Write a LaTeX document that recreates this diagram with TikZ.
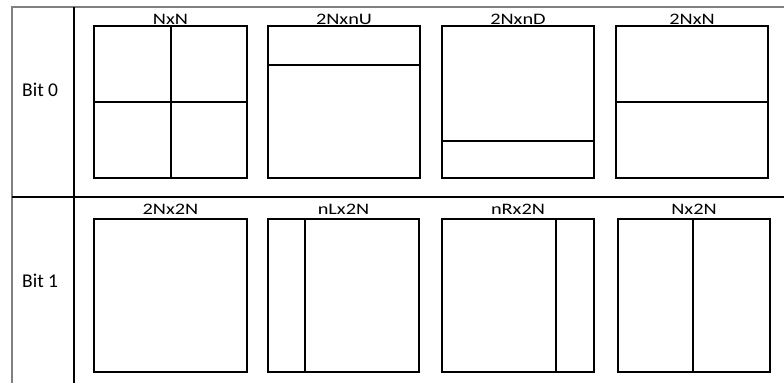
\documentclass[tikz,border=0pt]{standalone}
\usepackage{fontspec}
\setmainfont{Carlito}
\usepackage{graphicx}
\begin{document}
\begin{tikzpicture}[x=1pt,y=-1pt,
  partbox/.style={draw=black, line width=2pt, inner sep=0pt, minimum width=152pt, minimum height=152pt},
  split/.style={draw=black, line width=2pt},
  grid/.style={draw=black, line width=1.1pt},
  outer/.style={draw=black!50, line width=1.5pt},
  lbl/.style={anchor=base, inner sep=0pt, font=\fontsize{16}{19}\selectfont},
  rowlbl/.style={anchor=base west, inner sep=0pt, font=\fontsize{19.5}{23}\selectfont}]
\useasboundingbox (0,0) rectangle (784,383);
% table lines
\coordinate (tl) at (12,7);
\coordinate (tr) at (784,7);
\coordinate (bl) at (12,383);
\coordinate (dt) at (74,7);
\coordinate (db) at (74,383);
\coordinate (ml) at (12,197);
\coordinate (mr) at (784,197);
\draw[outer] (bl) -- (tl) -- (tr);
\draw[grid] (dt) -- (db);
\draw[grid] (ml) -- (mr);
% row labels
\node[rowlbl] (bit0) at (22,96.5) {Bit 0};
\node[rowlbl] (bit1) at (22,287.5) {Bit 1};
% row 0 boxes
\node[partbox, minimum width=153pt] (A) at (170.5,102) {};
\node[partbox] (B) at (344,102) {};
\node[partbox] (C) at (518,102) {};
\node[partbox] (D) at (692,102) {};
\draw[split] (A.north) -- (A.south);
\draw[split] (A.west) -- (A.east);
\draw[split] (B.west |- 0,65) -- (B.east |- 0,65);
\draw[split] (C.west |- 0,141) -- (C.east |- 0,141);
\draw[split] (D.west) -- (D.east);
\node[lbl] (lA) at (170.5,24.5) {\scalebox{1.27}[1]{NxN}};
\node[lbl] (lB) at (344,24.5) {\scalebox{1.27}[1]{2NxnU}};
\node[lbl] (lC) at (518,24.5) {\scalebox{1.27}[1]{2NxnD}};
\node[lbl] (lD) at (692,24.5) {\scalebox{1.27}[1]{2NxN}};
% row 1 boxes
\node[partbox, minimum width=153pt, minimum height=153pt] (E) at (170.5,295.5) {};
\node[partbox, minimum width=151pt, minimum height=153pt] (F) at (343.5,295.5) {};
\node[partbox, minimum height=153pt] (G) at (518,295.5) {};
\node[partbox, minimum height=153pt] (H) at (694,295.5) {};
\draw[split] (F.north -| 305,0) -- (F.south -| 305,0);
\draw[split] (G.north -| 556,0) -- (G.south -| 556,0);
\draw[split] (H.north -| 693,0) -- (H.south -| 693,0);
\node[lbl] (lE) at (170.5,214) {\scalebox{1.27}[1]{2Nx2N}};
\node[lbl] (lF) at (343.5,214) {\scalebox{1.27}[1]{nLx2N}};
\node[lbl] (lG) at (518,214) {\scalebox{1.27}[1]{nRx2N}};
\node[lbl] (lH) at (694,214) {\scalebox{1.27}[1]{Nx2N}};
\end{tikzpicture}
\end{document}
